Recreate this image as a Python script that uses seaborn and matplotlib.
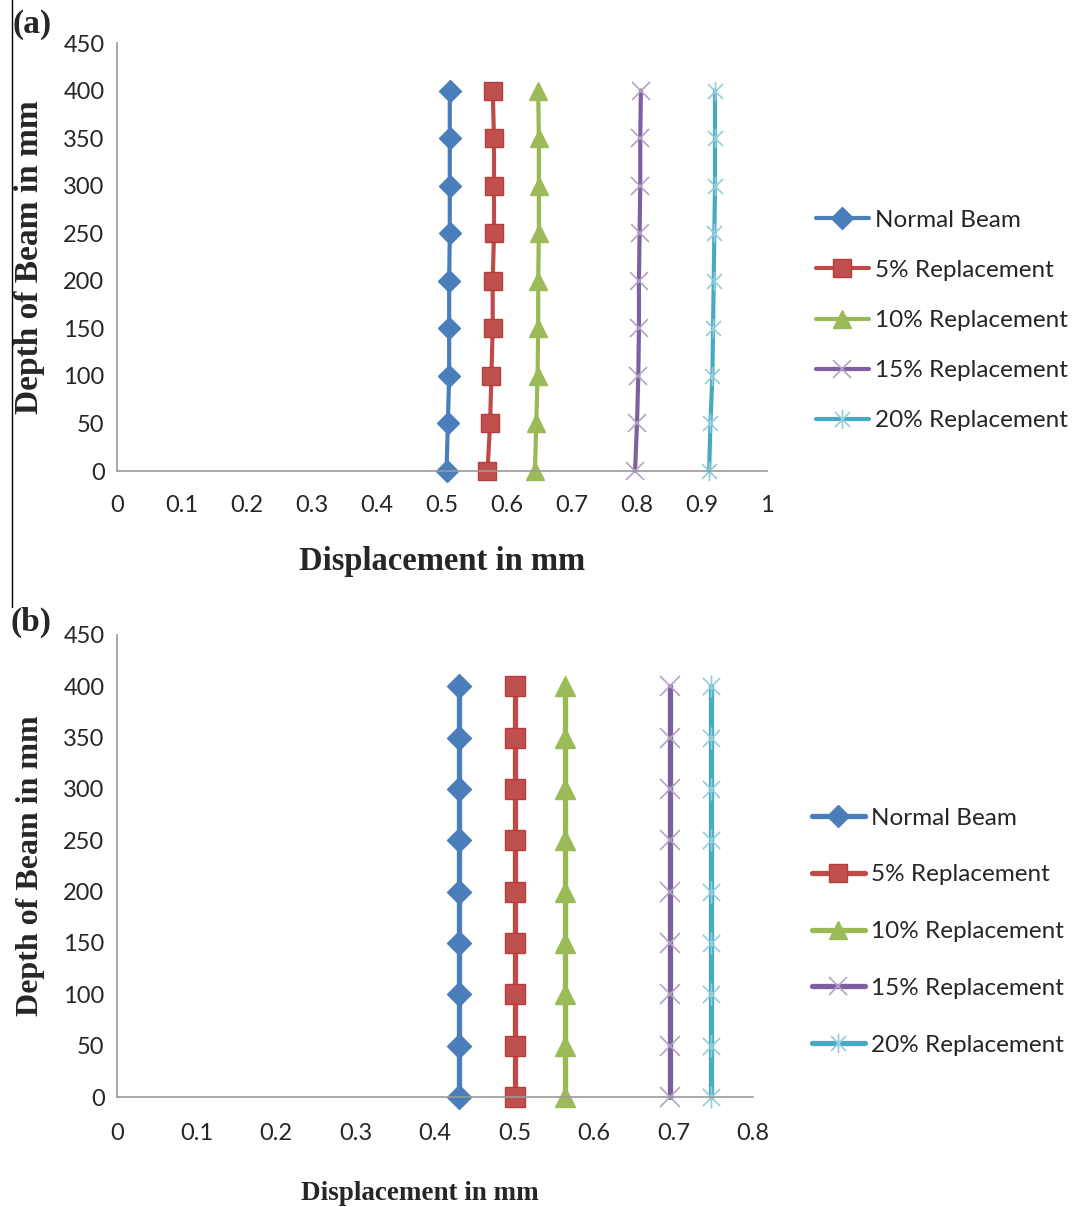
import matplotlib
matplotlib.use("Agg")
import matplotlib.pyplot as plt
import seaborn as sns
import pandas as pd
from matplotlib.path import Path
from matplotlib.lines import Line2D

# depth positions (mm)
depth = [0, 50, 100, 150, 200, 250, 300, 350, 400]

series_names = ["Normal Beam", "5% Replacement", "10% Replacement",
                "15% Replacement", "20% Replacement"]

# (a) displacements in mm, bottom to top
disp_a_normal = [0.507, 0.509, 0.511, 0.511, 0.511, 0.512, 0.512, 0.512, 0.512]
disp_a_5 = [0.570, 0.574, 0.576, 0.578, 0.578, 0.580, 0.580, 0.580, 0.578]
disp_a_10 = [0.643, 0.645, 0.647, 0.648, 0.648, 0.649, 0.649, 0.649, 0.648]
disp_a_15 = [0.797, 0.800, 0.802, 0.803, 0.803, 0.804, 0.805, 0.805, 0.806]
disp_a_20 = [0.911, 0.913, 0.916, 0.917, 0.918, 0.919, 0.920, 0.920, 0.920]

# (b) displacements in mm, bottom to top
disp_b_normal = [0.430] * 9
disp_b_5 = [0.500] * 9
disp_b_10 = [0.564] * 9
disp_b_15 = [0.695] * 9
disp_b_20 = [0.747] * 9

# star marker: x plus vertical bar
star = Path([(-1, -1), (1, 1), (-1, 1), (1, -1), (0, -1.3), (0, 1.3)],
            [Path.MOVETO, Path.LINETO, Path.MOVETO, Path.LINETO,
             Path.MOVETO, Path.LINETO])

styles = {
    "Normal Beam": dict(color="#4A7EBB", marker="D", ms=11, mfc="#4A7EBB", mec="#4A7EBB", mew=1),
    "5% Replacement": dict(color="#BE4B48", marker="s", ms=13, mfc="#C0504D", mec="#B83D3A", mew=1),
    "10% Replacement": dict(color="#98B954", marker="^", ms=13, mfc="#9BBB59", mec="#9BBB59", mew=1),
    "15% Replacement": dict(color="#7D60A0", marker="x", ms=13, mfc="none", mec="#B3A2C7", mew=1.2),
    "20% Replacement": dict(color="#46AAC5", marker=star, ms=14, mfc="none", mec="#93CDDD", mew=1.2),
}


def make_df(cols):
    rows = []
    for name, vals in zip(series_names, cols):
        for d, v in zip(depth, vals):
            rows.append({"series": name, "disp": v, "depth": d})
    return pd.DataFrame(rows)


df_a = make_df([disp_a_normal, disp_a_5, disp_a_10, disp_a_15, disp_a_20])
df_b = make_df([disp_b_normal, disp_b_5, disp_b_10, disp_b_15, disp_b_20])

sns.set_style("white")
plt.rcParams["font.family"] = ["Lato", "DejaVu Sans"]

fig = plt.figure(figsize=(10.72, 12.07), dpi=100)
ax_a = fig.add_axes([117 / 1072, 1 - 471 / 1207, 650 / 1072, 428 / 1207])
ax_b = fig.add_axes([117 / 1072, 1 - 1097 / 1207, 636 / 1072, 462 / 1207])


def draw(ax, df, xmax, xticks, lw, msc, xl, yl, xpad, leg_anchor, leg_gap):
    handles = []
    for name in series_names:
        st = styles[name]
        sub = df[df["series"] == name]
        sns.lineplot(data=sub, x="disp", y="depth", ax=ax, sort=False,
                     estimator=None, orient="y", color=st["color"], lw=lw,
                     marker=st["marker"], markersize=st["ms"] * msc,
                     markerfacecolor=st["mfc"], markeredgecolor=st["mec"],
                     markeredgewidth=st["mew"], legend=False, clip_on=False)
        handles.append(Line2D([], [], color=st["color"], lw=lw, marker=st["marker"],
                              markersize=st["ms"], markerfacecolor=st["mfc"],
                              markeredgecolor=st["mec"], markeredgewidth=st["mew"]))
    ax.set_xlim(0, xmax)
    ax.set_ylim(0, 450)
    ax.set_xticks(xticks)
    ax.set_xticklabels([f"{t:g}" for t in xticks])
    ax.set_yticks(range(0, 451, 50))
    ax.tick_params(length=0, labelsize=17)
    ax.tick_params(axis="x", pad=xpad)
    ax.tick_params(axis="y", pad=9)
    for s in ["top", "right"]:
        ax.spines[s].set_visible(False)
    for s in ["left", "bottom"]:
        ax.spines[s].set_color("#9a9a9a")
        ax.spines[s].set_linewidth(1.2)
    ax.set_xlabel("Displacement in mm", family="Liberation Serif", weight="bold",
                  fontsize=xl[0], labelpad=xl[1])
    ax.set_ylabel("Depth of Beam in mm", family="Liberation Serif", weight="bold",
                  fontsize=yl[0], labelpad=yl[1])
    ax.legend(handles, series_names, loc="upper left", bbox_to_anchor=leg_anchor,
              bbox_transform=fig.transFigure, frameon=False, fontsize=17.5,
              handlelength=2.2, handletextpad=0.25, labelspacing=leg_gap,
              borderaxespad=0)


draw(ax_a, df_a, 1, [0, 0.1, 0.2, 0.3, 0.4, 0.5, 0.6, 0.7, 0.8, 0.9, 1], 3, 1.0,
     (23.5, 22), (24, 13), 17, (806 / 1072, 1 - 200 / 1207), 1.2)
draw(ax_b, df_b, 0.8, [0, 0.1, 0.2, 0.3, 0.4, 0.5, 0.6, 0.7, 0.8], 3.8, 1.15,
     (19.5, 26), (23, 13), 19, (802 / 1072, 1 - 798 / 1207), 1.47)
ax_b.xaxis.label.set_x((420 - 117) / 636)

fig.text(12 / 1072, 1 - 25 / 1207, "(a)", family="Liberation Serif", weight="bold",
         fontsize=24, va="center", ha="left")
fig.text(10 / 1072, 1 - 622 / 1207, "(b)", family="Liberation Serif", weight="bold",
         fontsize=24, va="center", ha="left")
fig.add_artist(Line2D([12 / 1072, 12 / 1072], [1, 1 - 607 / 1207],
                      transform=fig.transFigure, color="black", lw=1))

fig.savefig("out.png", dpi=100)
